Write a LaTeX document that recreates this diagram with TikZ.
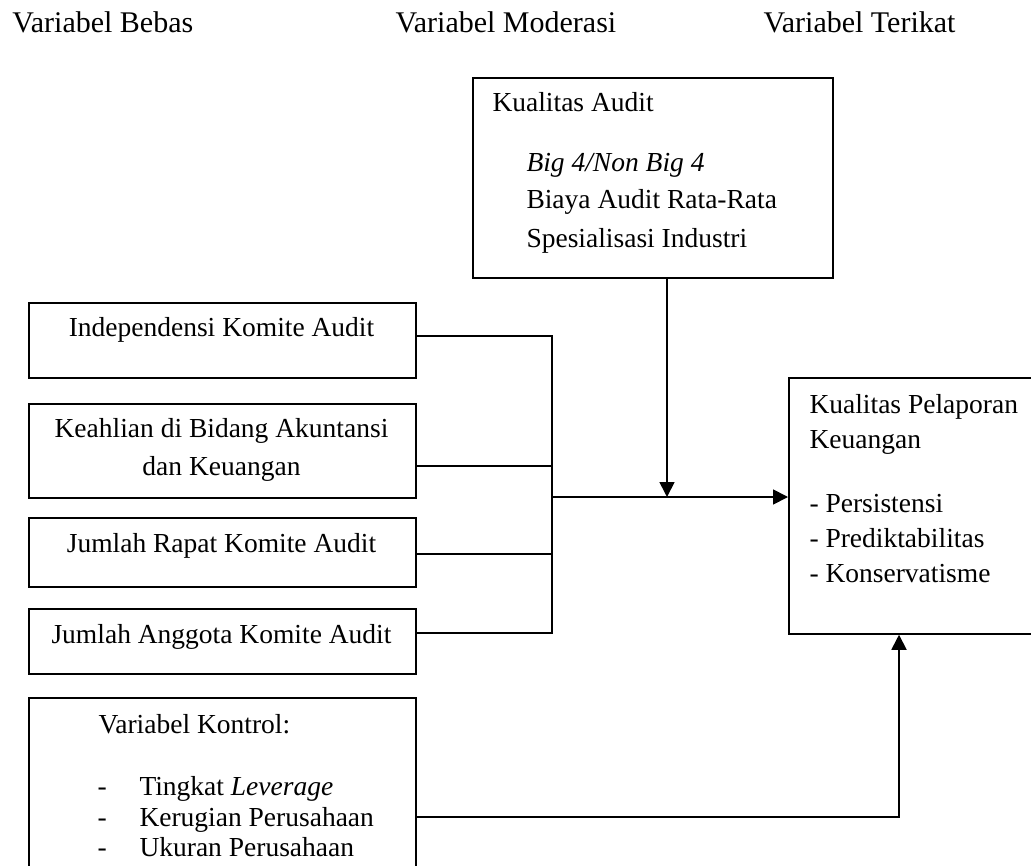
\documentclass[tikz,border=0pt]{standalone}
\usepackage{fontspec}
\setmainfont{Liberation Serif}
\usetikzlibrary{arrows.meta,calc}
\tikzset{
  boxnode/.style={draw, line width=0.7pt, inner sep=0pt, anchor=north west},
  txt/.style={anchor=base west, inner sep=0pt, font=\fontsize{11}{13}\selectfont},
  ctxt/.style={anchor=base, inner sep=0pt, font=\fontsize{11}{13}\selectfont},
  ttl/.style={anchor=base west, inner sep=0pt, font=\fontsize{12}{14}\selectfont},
  conn/.style={line width=0.7pt},
  arr/.style={line width=0.7pt, -{Triangle[length=6pt,width=6pt]}}
}
\begin{document}
\begin{tikzpicture}[x=0.4pt, y=-0.4pt]
\useasboundingbox (0,0) rectangle (1031,865);
\clip (0,0) rectangle (1031,865);
% titles
\node[ttl] (t1) at (12,33) {Variabel Bebas};
\node[ttl] (t2) at (395,33) {Variabel Moderasi};
\node[ttl] (t3) at (763,33) {Variabel Terikat};
% moderating box
\node[boxnode, minimum width=144pt, minimum height=80pt] (ka) at (472,77) {};
\node[txt] (ka1) at (492,112) {Kualitas Audit};
\node[txt] (ka2) at (526,172) {\itshape Big 4/Non Big 4};
\node[txt] (ka3) at (526,209) {Biaya Audit Rata-Rata};
\node[txt] (ka4) at (526,247) {Spesialisasi Industri};
% independent boxes
\node[boxnode, minimum width=154.8pt, minimum height=30pt] (b1) at (28,302) {};
\node[ctxt] (b1t) at (221.5,336) {Independensi Komite Audit};
\node[boxnode, minimum width=154.8pt, minimum height=37.6pt] (b2) at (28,403) {};
\node[ctxt] (b2t) at (221.5,437) {Keahlian di Bidang Akuntansi};
\node[ctxt] (b2u) at (221.5,475) {dan Keuangan};
\node[boxnode, minimum width=154.8pt, minimum height=27.6pt] (b3) at (28,517) {};
\node[ctxt] (b3t) at (221.5,552) {Jumlah Rapat Komite Audit};
\node[boxnode, minimum width=154.8pt, minimum height=26pt] (b4) at (28,608) {};
\node[ctxt] (b4t) at (221.5,643) {Jumlah Anggota Komite Audit};
% control box
\node[boxnode, minimum width=154.8pt, minimum height=84pt] (kon) at (28,697) {};
\node[txt] (k0) at (98,733) {Variabel Kontrol:};
\node[txt] (k1d) at (97,795) {-};
\node[txt] (k1) at (139,795) {Tingkat \textit{Leverage}};
\node[txt] (k2d) at (97,826) {-};
\node[txt] (k2) at (139,826) {Kerugian Perusahaan};
\node[txt] (k3d) at (97,856) {-};
\node[txt] (k3) at (139,856) {Ukuran Perusahaan};
% dependent box
\node[boxnode, minimum width=104pt, minimum height=102.4pt] (pel) at (788,377) {};
\node[txt] (p1) at (809,413) {Kualitas Pelaporan};
\node[txt] (p2) at (809,448) {Keuangan};
\node[txt] (p3) at (809,512) {- Persistensi};
\node[txt] (p4) at (809,547) {- Prediktabilitas};
\node[txt] (p5) at (809,582) {- Konservatisme};
% connector coordinates
\coordinate (bt) at (552,336);
\coordinate (c2) at (552,466);
\coordinate (c3) at (552,554);
\coordinate (bb) at (552,633);
\coordinate (j) at (552,497);
\coordinate (m) at (667,497);
\coordinate (k) at (899,817);
% connectors
\draw[conn] (b1.east |- bt) -- (bt) -- (bb) -- (b4.east |- bb);
\draw[conn] (b2.east |- c2) -- (c2);
\draw[conn] (b3.east |- c3) -- (c3);
\draw[arr] (j) -- (pel.west |- j);
\draw[arr] (m |- ka.south) -- (m);
\draw[arr] (kon.east |- k) -- (k) -- (k |- pel.south);
\end{tikzpicture}
\end{document}
